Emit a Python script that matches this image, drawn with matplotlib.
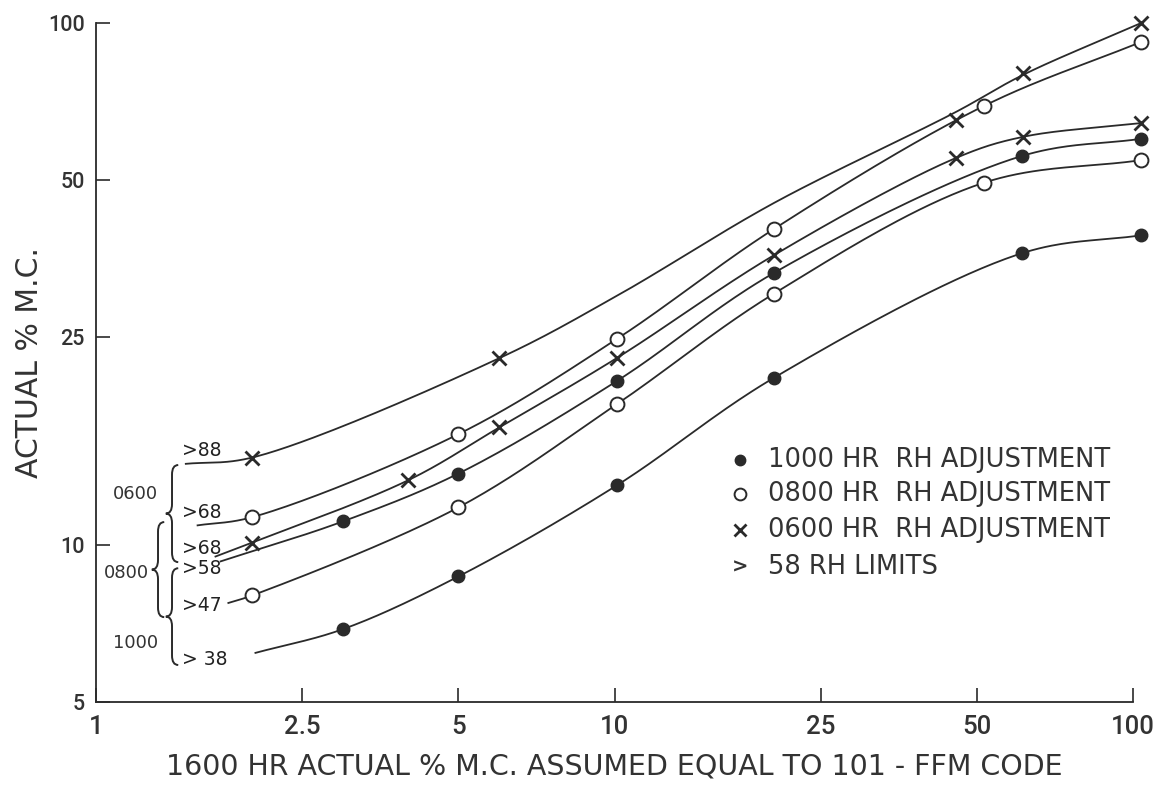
import numpy as np
import matplotlib
matplotlib.use("Agg")
import matplotlib.pyplot as plt
from matplotlib.path import Path
from matplotlib.patches import PathPatch

# ---------------- data ----------------
x_ticks = [1, 2.5, 5, 10, 25, 50, 100]
x_tick_labels = ["1", "2.5", "5", "10", "25", "50", "100"]
y_ticks = [5, 10, 25, 50, 100]
y_tick_labels = ["5", "10", "25", "50", "100"]

# 1000 HR RH adjustment (filled circles), >38 RH limit curve
x_1000_38 = [3.0, 5.0, 10.1, 20.3, 61.0, 103.7]
y_1000_38 = [6.9, 8.7, 13.0, 20.9, 36.2, 39.2]
cx_1000_38 = [2.03, 3.0, 5.0, 10.1, 20.3, 61.0, 103.7]
cy_1000_38 = [6.21, 6.9, 8.7, 13.0, 20.9, 36.2, 39.2]

# 1000 HR RH adjustment (filled circles), >58 RH limit curve
x_1000_58 = [3.0, 5.0, 10.1, 20.3, 61.0, 103.7]
y_1000_58 = [11.1, 13.7, 20.6, 33.2, 55.6, 60.0]
cx_1000_58 = [1.74, 3.0, 5.0, 10.1, 20.3, 61.0, 103.7]
cy_1000_58 = [9.3, 11.1, 13.7, 20.6, 33.2, 55.6, 60.0]

# 0800 HR RH adjustment (open circles), >47 RH limit curve
x_0800_47 = [2.0, 5.0, 10.1, 20.3, 51.5, 103.7]
y_0800_47 = [8.0, 11.8, 18.6, 30.3, 49.4, 54.6]
cx_0800_47 = [1.80, 2.0, 5.0, 10.1, 20.3, 51.5, 103.7]
cy_0800_47 = [7.74, 8.0, 11.8, 18.6, 30.3, 49.4, 54.6]

# 0800 HR RH adjustment (open circles), >68 RH limit curve
x_0800_68 = [2.0, 5.0, 10.1, 20.3, 51.5, 103.7]
y_0800_68 = [11.3, 16.3, 24.8, 40.3, 69.3, 92.0]
cx_0800_68 = [1.57, 2.0, 5.0, 10.1, 20.3, 51.5, 103.7]
cy_0800_68 = [10.9, 11.3, 16.3, 24.8, 40.3, 69.3, 92.0]

# 0600 HR RH adjustment (crosses), >68 RH limit curve
x_0600_68 = [2.0, 4.0, 6.0, 10.1, 20.3, 45.5, 61.3, 103.7]
y_0600_68 = [10.1, 13.3, 16.8, 22.8, 35.9, 55.1, 60.5, 64.3]
cx_0600_68 = [1.70, 2.0, 4.0, 6.0, 10.1, 20.3, 45.5, 61.3, 103.7]
cy_0600_68 = [9.5, 10.1, 13.3, 16.8, 22.8, 35.9, 55.1, 60.5, 64.3]

# 0600 HR RH adjustment (crosses), >88 RH limit curve
x_0600_88 = [2.0, 6.0, 45.5, 61.3, 103.7]
y_0600_88 = [14.7, 22.8, 65.2, 80.2, 100.0]
cx_0600_88 = [1.49, 2.0, 6.0, 10.1, 20.3, 45.5, 61.3, 103.7]
cy_0600_88 = [14.3, 14.7, 22.8, 30.0, 45.2, 67.5, 79.5, 100.0]

rh_labels = [">88", ">68", ">68", ">58", ">47", "> 38"]
group_labels = ["0600", "0800", "1000"]
legend_labels = ["1000 HR  RH ADJUSTMENT", "0800 HR  RH ADJUSTMENT",
                 "0600 HR  RH ADJUSTMENT", "58 RH LIMITS"]

# ---------------- styling ----------------
LINE = "#2a2a2a"
TEXT = "#333333"


def smooth(xs, ys, n=40):
    """Centripetal Catmull-Rom rendering of a hand-drawn curve in log space."""
    P = np.column_stack([np.log10(xs), np.log10(ys)])
    P = np.vstack([2 * P[0] - P[1], P, 2 * P[-1] - P[-2]])
    out = []
    for i in range(1, len(P) - 2):
        p0, p1, p2, p3 = P[i - 1], P[i], P[i + 1], P[i + 2]
        t0 = 0.0
        t1 = t0 + np.linalg.norm(p1 - p0) ** 0.5
        t2 = t1 + np.linalg.norm(p2 - p1) ** 0.5
        t3 = t2 + np.linalg.norm(p3 - p2) ** 0.5
        t = np.linspace(t1, t2, n)[:, None]
        a1 = (t1 - t) / (t1 - t0) * p0 + (t - t0) / (t1 - t0) * p1
        a2 = (t2 - t) / (t2 - t1) * p1 + (t - t1) / (t2 - t1) * p2
        a3 = (t3 - t) / (t3 - t2) * p2 + (t - t2) / (t3 - t2) * p3
        b1 = (t2 - t) / (t2 - t0) * a1 + (t - t0) / (t2 - t0) * a2
        b2 = (t3 - t) / (t3 - t1) * a2 + (t - t1) / (t3 - t1) * a3
        c = (t2 - t) / (t2 - t1) * b1 + (t - t1) / (t2 - t1) * b2
        out.append(c if i == 1 else c[1:])
    C = np.vstack(out)
    return 10 ** C[:, 0], 10 ** C[:, 1]


fig = plt.figure(figsize=(11.58, 7.85), dpi=100)
fig.patch.set_facecolor("white")
ax = fig.add_axes([96 / 1158, 83 / 785, 1037 / 1158, 679 / 785])
ax.set_xscale("log")
ax.set_yscale("log")
ax.set_xlim(1, 100)
ax.set_ylim(5, 100)

for s in ["top", "right"]:
    ax.spines[s].set_visible(False)
for s in ["left", "bottom"]:
    ax.spines[s].set_color(LINE)
    ax.spines[s].set_linewidth(1.3)

ax.xaxis.set_major_locator(matplotlib.ticker.FixedLocator(x_ticks))
ax.xaxis.set_major_formatter(matplotlib.ticker.FixedFormatter(x_tick_labels))
ax.xaxis.set_minor_locator(matplotlib.ticker.NullLocator())
ax.yaxis.set_major_locator(matplotlib.ticker.FixedLocator(y_ticks))
ax.yaxis.set_major_formatter(matplotlib.ticker.FixedFormatter(y_tick_labels))
ax.yaxis.set_minor_locator(matplotlib.ticker.NullLocator())
ax.tick_params(axis="x", direction="in", length=10, width=1.2, color=LINE,
               pad=9, labelsize=18.5, labelcolor=TEXT)
ax.tick_params(axis="y", direction="in", length=10, width=1.2, color=LINE,
               pad=8, labelsize=15.5, labelcolor=TEXT)
for lab in ax.get_xticklabels() + ax.get_yticklabels():
    lab.set_family("Roboto")
    lab.set_fontweight("medium")

ax.set_xlabel("1600 HR ACTUAL % M.C. ASSUMED EQUAL TO 101 - FFM CODE",
              fontsize=20.5, color=TEXT, family="DejaVu Sans", labelpad=10)
ax.set_ylabel("ACTUAL % M.C.", fontsize=21.5, color=TEXT,
              family="DejaVu Sans")
ax.yaxis.label.set_va("center")
ax.yaxis.set_label_coords(-0.064, 0.5)

curves = [(cx_1000_38, cy_1000_38), (cx_1000_58, cy_1000_58),
          (cx_0800_47, cy_0800_47), (cx_0800_68, cy_0800_68),
          (cx_0600_68, cy_0600_68), (cx_0600_88, cy_0600_88)]
for cx, cy in curves:
    sx, sy = smooth(cx, cy)
    ax.plot(sx, sy, color=LINE, lw=1.3, clip_on=False, zorder=2)

filled = dict(marker="o", ms=9, mfc=LINE, mec=LINE, mew=1.0, ls="none",
              clip_on=False, zorder=3)
opened = dict(marker="o", ms=10, mfc="white", mec=LINE, mew=1.4, ls="none",
              clip_on=False, zorder=3)
cross = dict(marker="x", ms=10, mec=LINE, mew=2.0, ls="none",
             clip_on=False, zorder=3)

ax.plot(x_1000_38, y_1000_38, **filled)
ax.plot(x_1000_58, y_1000_58, **filled)
ax.plot(x_0800_47, y_0800_47, **opened)
ax.plot(x_0800_68, y_0800_68, **opened)
ax.plot(x_0600_68, y_0600_68, **cross)
ax.plot(x_0600_88, y_0600_88, **cross)

# ---------------- legend (hand-laid, as in the original) ----------------
leg_x_marker = 0.621
leg_x_text = 0.648
leg_rows = [0.3564, 0.3063, 0.2533, 0.1988]
leg_styles = [filled, opened, cross]
for row, sty in zip(leg_rows[:3], leg_styles):
    st = dict(sty)
    st["ms"] = st["ms"] - 1.5
    ax.plot([leg_x_marker], [row], transform=ax.transAxes, **st)
ax.text(leg_x_marker, leg_rows[3], ">", transform=ax.transAxes, ha="center",
        va="center", fontsize=14, fontweight="bold", color=TEXT,
        family="DejaVu Sans")
for row, lab in zip(leg_rows, legend_labels):
    ax.text(leg_x_text, row, lab, transform=ax.transAxes, ha="left",
            va="center", fontsize=18.5, color=TEXT, family="DejaVu Sans")

# ---------------- RH limit labels and braces ----------------
rh_y = [0.3697, 0.2784, 0.2261, 0.1966, 0.1421, 0.0633]
for yy, lab in zip(rh_y, rh_labels):
    ax.text(0.0829, yy, lab, transform=ax.transAxes, ha="left", va="center",
            fontsize=13.5, color="#222222", family="DejaVu Sans",
            clip_on=False)

group_pos = [(0.0376, 0.3063), (0.0289, 0.190), (0.0386, 0.0869)]
for (gx, gy), lab in zip(group_pos, group_labels):
    ax.text(gx, gy, lab, transform=ax.transAxes, ha="center", va="center",
            fontsize=13, color=TEXT, family="DejaVu Sans", clip_on=False)


def brace(ax, x, y0, y1, w=0.006, d=0.014):
    ym = 0.5 * (y0 + y1)
    verts = [(x + w, y0), (x, y0), (x, y0 - d),
             (x, ym + d),
             (x, ym), (x - w, ym),
             (x, ym), (x, ym - d),
             (x, y1 + d),
             (x, y1), (x + w, y1)]
    codes = [Path.MOVETO, Path.CURVE3, Path.CURVE3,
             Path.LINETO,
             Path.CURVE3, Path.CURVE3,
             Path.CURVE3, Path.CURVE3,
             Path.LINETO,
             Path.CURVE3, Path.CURVE3]
    patch = PathPatch(Path(verts, codes), transform=ax.transAxes,
                      facecolor="none", edgecolor=LINE, lw=1.4, clip_on=False)
    ax.add_patch(patch)


brace(ax, 0.0733, 0.349, 0.206)
brace(ax, 0.0598, 0.265, 0.125)
brace(ax, 0.0733, 0.197, 0.0545)

fig.savefig("out.png", dpi=100, facecolor="white")
